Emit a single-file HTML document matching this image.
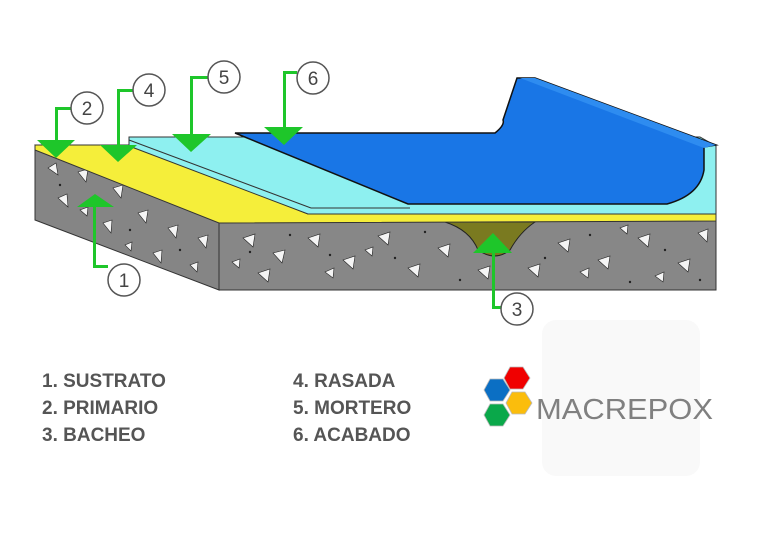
<!DOCTYPE html>
<html><head><meta charset="utf-8"><style>
body{margin:0;background:#fff;width:768px;height:531px;overflow:hidden;font-family:"Liberation Sans",sans-serif}
</style></head><body>
<svg width="768" height="531" viewBox="0 0 768 531" xmlns="http://www.w3.org/2000/svg">
<rect x="542" y="320" width="158" height="156" rx="14" fill="#f9f9f9"/>
<polygon points="35,145 219,217 219,290 35,220" fill="#858585" stroke="#333" stroke-width="1"/>
<polygon points="219,217 716,217 716,290 219,290" fill="#878787" stroke="#333" stroke-width="1"/>
<g fill="#f4f4f4" stroke="#222" stroke-width="0.6">
<polygon points="48,168 56,163 58,175"/><polygon points="78,172 88,169 86,182"/><polygon points="113,188 123,185 121,198"/>
<polygon points="58,198 67,194 68,207"/><polygon points="138,213 148,210 146,223"/><polygon points="168,228 178,225 176,238"/>
<polygon points="198,238 208,235 206,248"/><polygon points="103,223 112,220 111,233"/><polygon points="153,253 162,250 161,263"/>
<polygon points="80,210 88,207 87,216"/><polygon points="190,265 198,262 197,272"/><polygon points="125,245 132,242 131,251"/>
<polygon points="243,238 255,234 253,247"/><polygon points="273,253 285,250 282,263"/><polygon points="308,238 320,234 318,247"/>
<polygon points="343,260 355,256 353,269"/><polygon points="378,236 390,232 388,245"/><polygon points="408,268 420,264 418,277"/>
<polygon points="438,248 450,244 448,257"/><polygon points="558,243 570,239 568,252"/><polygon points="598,260 610,256 608,269"/>
<polygon points="638,238 650,234 648,247"/><polygon points="678,263 690,259 688,272"/><polygon points="698,233 708,229 707,242"/>
<polygon points="528,268 540,264 538,277"/><polygon points="258,273 270,269 268,282"/><polygon points="478,270 490,266 488,279"/>
<polygon points="325,272 334,268 333,278"/><polygon points="365,250 373,247 372,256"/><polygon points="580,272 589,268 588,278"/>
<polygon points="655,276 664,272 663,282"/><polygon points="620,228 628,225 627,234"/><polygon points="232,262 240,259 239,268"/>
</g>
<g fill="#222">
<circle cx="60" cy="185" r="1.2"/><circle cx="95" cy="200" r="1.2"/><circle cx="130" cy="230" r="1.2"/><circle cx="180" cy="250" r="1.2"/>
<circle cx="290" cy="235" r="1.2"/><circle cx="330" cy="255" r="1.2"/><circle cx="395" cy="258" r="1.2"/><circle cx="460" cy="280" r="1.2"/>
<circle cx="545" cy="258" r="1.2"/><circle cx="590" cy="235" r="1.2"/><circle cx="665" cy="250" r="1.2"/><circle cx="700" cy="280" r="1.2"/>
<circle cx="250" cy="252" r="1.2"/><circle cx="425" cy="232" r="1.2"/><circle cx="630" cy="282" r="1.2"/>
</g>
<path d="M445,222 Q470,230 478,250 Q495,262 510,250 Q520,232 535,222 Z" fill="#7a7a20" stroke="#222" stroke-width="1"/>
<polygon points="35,145 134,145 308,214 716,214 716,221 219,223 35,150" fill="#f5ee3a" stroke="#333" stroke-width="1"/>
<polygon points="129,137 700,137 716,146 716,214 308,214 129,146" fill="#8ef0f0" stroke="#333" stroke-width="1"/>
<line x1="129" y1="140" x2="311" y2="208" stroke="#333" stroke-width="1"/>
<line x1="311" y1="208" x2="410" y2="208" stroke="#333" stroke-width="1"/>
<path d="M235,133 L495,133 Q505,125 503,120 L517,78 L535,78 L716,145 L704,147 L704,170 Q700,195 667,204 L408,204 Z" fill="#1976e6" stroke="#111" stroke-width="1.5"/>
<polygon points="520,78 535,78 716,145 704,148" fill="#2e8cf0"/>
<g fill="#1ec62a" stroke="none">
<rect x="55" y="107" width="3" height="35"/><rect x="55" y="107" width="17" height="3"/>
<polygon points="37,140 75,140 56,158"/>
<rect x="117" y="89" width="3" height="57"/><rect x="117" y="89" width="17" height="3"/>
<polygon points="100,145 137,145 118,162"/>
<rect x="190" y="76" width="3" height="60"/><rect x="190" y="76" width="18" height="3"/>
<polygon points="172,134 211,134 191,152"/>
<rect x="283" y="71" width="3" height="58"/><rect x="283" y="71" width="14" height="3"/>
<polygon points="264,127 303,127 284,145"/>
<rect x="93" y="200" width="3" height="68"/><rect x="93" y="265" width="15" height="3"/>
<polygon points="77,207 114,207 95,194"/>
<rect x="492" y="245" width="3" height="64"/><rect x="492" y="306" width="10" height="3"/>
<polygon points="473,253 512,253 493,233"/>
</g>
<g fill="#fff" stroke="#555" stroke-width="1.5">
<circle cx="87" cy="108" r="16"/><circle cx="149" cy="90" r="16"/><circle cx="224" cy="77" r="16"/>
<circle cx="313" cy="78" r="16"/><circle cx="124" cy="280" r="16"/><circle cx="517" cy="309" r="16"/>
</g>
<g font-size="19" fill="#444" text-anchor="middle" font-family="Liberation Sans,sans-serif">
<text x="87" y="115">2</text><text x="149" y="97">4</text><text x="224" y="84">5</text>
<text x="313" y="85">6</text><text x="124" y="287">1</text><text x="517" y="316">3</text>
</g>
<g font-size="19" fill="#555" font-weight="bold" font-family="Liberation Sans,sans-serif">
<text x="42" y="387">1. SUSTRATO</text><text x="42" y="414">2. PRIMARIO</text><text x="42" y="441">3. BACHEO</text>
<text x="293" y="387">4. RASADA</text><text x="293" y="414">5. MORTERO</text><text x="293" y="441">6. ACABADO</text>
</g>
<g stroke="#bbb" stroke-width="0.8">
<polygon points="504,378 510,367 523,367 530,378 523,389 510,389" fill="#f00000"/>
<polygon points="484,390 490,379 503,379 510,390 503,401 490,401" fill="#0b6fc4"/>
<polygon points="506,403 512,392 525,392 532,403 525,414 512,414" fill="#fbbd0c"/>
<polygon points="484,415 490,404 503,404 510,415 503,426 490,426" fill="#0aa84a"/>
</g>
<text x="536" y="419" font-size="29" fill="#808080" font-family="Liberation Sans,sans-serif" textLength="177" lengthAdjust="spacingAndGlyphs">MACREPOX</text>
</svg>
</body></html>
